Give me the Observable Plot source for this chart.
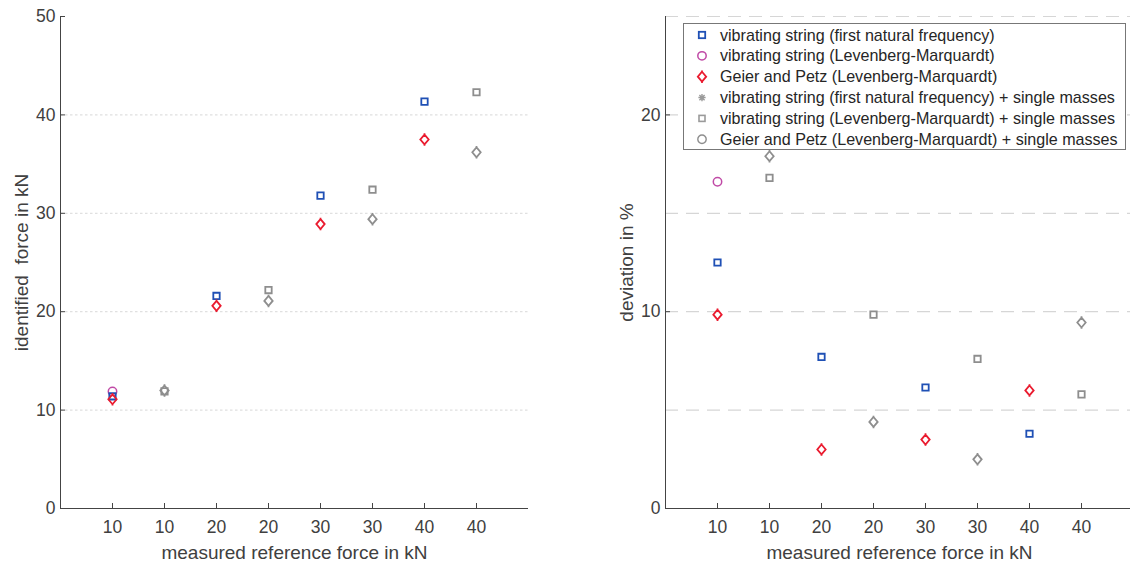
<!DOCTYPE html>
<html>
<head>
<meta charset="utf-8">
<script src="https://cdn.jsdelivr.net/npm/d3@7"></script>
<script src="https://cdn.jsdelivr.net/npm/@observablehq/plot@0.6"></script>
<style>
  html, body { margin: 0; padding: 0; background: #fff; }
  #chart { position: relative; width: 1130px; height: 567px; overflow: hidden;
           font-family: "Liberation Sans", Arial, sans-serif; }
  #chart > svg { position: absolute; top: 0; }
</style>
</head>
<body>
<div id="chart"></div>
<script>
// Measurement positions along the x axis and their reference force labels (kN)
const positions = [1, 2, 3, 4, 5, 6, 7, 8];
const forceLabels = ["10", "10", "20", "20", "30", "30", "40", "40"];

// Positions of tests without / with the additional single masses
const posPlain = [1, 3, 5, 7];
const posMasses = [2, 4, 6, 8];
const posStringLM = [1];

// Identified force in kN
const forceStringFreq = [11.4, 21.6, 31.8, 41.35];
const forceStringLM = [11.9];
const forceGeierPetz = [11.1, 20.6, 28.9, 37.5];
const forceStringLMMasses = [11.9, 22.2, 32.4, 42.3];
const forceGeierPetzMasses = [12.0, 21.1, 29.4, 36.2];

// Deviation from the measured reference force in %
const devStringFreq = [12.5, 7.7, 6.15, 3.8];
const devStringLM = [16.6];
const devGeierPetz = [9.85, 3.0, 3.5, 6.0];
const devStringLMMasses = [16.8, 9.85, 7.6, 5.8];
const devGeierPetzMasses = [17.9, 4.4, 2.5, 9.45];

// Legend entries
const legendNames = [
  "vibrating string (first natural frequency)",
  "vibrating string (Levenberg-Marquardt)",
  "Geier and Petz (Levenberg-Marquardt)",
  "vibrating string (first natural frequency) + single masses",
  "vibrating string (Levenberg-Marquardt) + single masses",
  "Geier and Petz (Levenberg-Marquardt) + single masses"
];

// Axis ticks and gridlines
const forceTicks = [0, 10, 20, 30, 40, 50];
const forceGrid = [10, 20, 30, 40];
const devTicks = [0, 10, 20];
const devGrid = [5, 10, 15, 20, 25];

const FONT = "'Liberation Sans', Arial, sans-serif";
const INK = "#404040";
const AXIS = "#444";
const BLUE = "#1f50b5";
const MAGENTA = "#c04aa6";
const RED = "#ea1b2f";
const GRAY = "#8e8e8e";
const HEIGHT = 567, MT = 16, MB = 59, TICK = 5;

// Diamond marker that is slightly taller than wide, with short spikes at the tips
const tallDiamond = {
  draw(ctx, size) {
    const r = Math.sqrt(size / Math.PI);
    const w = r * 0.93, h = r * 1.1, s = 1.3;
    ctx.moveTo(0, -h); ctx.lineTo(w, 0); ctx.lineTo(0, h); ctx.lineTo(-w, 0); ctx.closePath();
    ctx.moveTo(0, -h); ctx.lineTo(0, -h - s);
    ctx.moveTo(0, h); ctx.lineTo(0, h + s);
  }
};

const rows = (pos, vals) => pos.map((p, i) => ({x: p, y: vals[i]}));

function markerLayers(v) {
  return [
    Plot.dot(rows(posMasses, v.lmMasses), {x: "x", y: "y", symbol: "square", r: 3.6, stroke: GRAY, strokeWidth: 1.8, fill: "none"}),
    Plot.dot(rows(posMasses, v.gpMasses), {x: "x", y: "y", symbol: tallDiamond, r: 4.5, stroke: GRAY, strokeWidth: 1.8, fill: "none"}),
    Plot.dot(rows(posStringLM, v.lm), {x: "x", y: "y", symbol: "circle", r: 4.2, stroke: MAGENTA, strokeWidth: 1.5, fill: "none"}),
    Plot.dot(rows(posPlain, v.freq), {x: "x", y: "y", symbol: "square", r: 3.6, stroke: BLUE, strokeWidth: 1.8, fill: "none"}),
    Plot.dot(rows(posPlain, v.gp), {x: "x", y: "y", symbol: tallDiamond, r: 4.5, stroke: RED, strokeWidth: 1.8, fill: "none"})
  ];
}

function panel({width, marginLeft, marginRight, yMax, yTicks, grid, gridDash, gridColor, yLabel, values}) {
  const fw = width - marginLeft - marginRight;
  const fh = HEIGHT - MT - MB;
  return Plot.plot({
    width, height: HEIGHT, marginLeft, marginRight, marginTop: MT, marginBottom: MB,
    style: {fontFamily: FONT, fontSize: "17.5px", color: INK, background: "transparent", overflow: "visible"},
    x: {domain: [0, 9], axis: null},
    y: {domain: [0, yMax], axis: null},
    marks: [
      Plot.ruleY(grid, {stroke: gridColor, strokeWidth: 1.2, strokeDasharray: gridDash}),
      Plot.ruleY(yTicks, {stroke: AXIS, insetRight: fw - TICK}),
      Plot.ruleX(positions, {stroke: AXIS, insetTop: fh - TICK}),
      Plot.ruleX([0], {stroke: AXIS}),
      Plot.ruleY([0], {stroke: AXIS}),
      Plot.axisY({ticks: yTicks, tickSize: 0, tickPadding: 5, label: null, fill: INK}),
      Plot.axisX({ticks: positions, tickFormat: (d) => forceLabels[d - 1], tickSize: 0, tickPadding: 12, label: null, fill: INK}),
      Plot.text(["measured reference force in kN"], {text: (d) => d, frameAnchor: "bottom", textAnchor: "middle", lineAnchor: "bottom", dy: 50, fontSize: 19, fill: INK}),
      Plot.text([yLabel], {text: (d) => d, frameAnchor: "left", textAnchor: "middle", lineAnchor: "bottom", rotate: -90, dx: -33, fontSize: 19, fill: INK}),
      ...markerLayers(values)
    ]
  });
}

const chart = document.getElementById("chart");

const left = panel({
  width: 565, marginLeft: 60, marginRight: 37, yMax: 50,
  yTicks: forceTicks, grid: forceGrid, gridDash: "2.5,2.5", gridColor: "#e0e0e0",
  yLabel: "identified\u00a0 force in kN",
  values: {freq: forceStringFreq, lm: forceStringLM, gp: forceGeierPetz, lmMasses: forceStringLMMasses, gpMasses: forceGeierPetzMasses}
});
left.style.left = "0px";
chart.appendChild(left);

const right = panel({
  width: 568, marginLeft: 100, marginRight: 0, yMax: 25,
  yTicks: devTicks, grid: devGrid, gridDash: "13,8", gridColor: "#d6d6d6",
  yLabel: "deviation in %",
  values: {freq: devStringFreq, lm: devStringLM, gp: devGeierPetz, lmMasses: devStringLMMasses, gpMasses: devGeierPetzMasses}
});
right.style.left = "565px";
chart.appendChild(right);

// Legend box inside the deviation panel
const legendSymbols = [
  {shape: "square", color: BLUE, size: 6.4, width: 1.8},
  {shape: "circle", color: MAGENTA, size: 4.2, width: 1.5},
  {shape: "diamond", color: RED, size: 4.5, width: 1.8},
  {shape: "asterisk", color: "#9a9a9a", size: 3.6, width: 1.4},
  {shape: "square", color: "#9a9a9a", size: 6.0, width: 1.6},
  {shape: "circle", color: GRAY, size: 4.2, width: 1.4}
];

const lg = d3.create("svg")
  .attr("width", 1130).attr("height", 567)
  .style("left", "0px")
  .style("font-family", FONT);
const box = {x: 683.5, y: 23.5, w: 442, h: 126};
lg.append("rect").attr("x", box.x).attr("y", box.y).attr("width", box.w).attr("height", box.h)
  .attr("fill", "#fff").attr("stroke", "#777").attr("stroke-width", 1);

const rowY = (i) => 35 + i * 20.85;
legendSymbols.forEach((s, i) => {
  const cx = 702, cy = rowY(i);
  const g = lg.append("g").attr("transform", `translate(${cx},${cy})`)
    .attr("fill", "none").attr("stroke", s.color).attr("stroke-width", s.width);
  if (s.shape === "square") {
    g.append("rect").attr("x", -s.size / 2).attr("y", -s.size / 2).attr("width", s.size).attr("height", s.size);
  } else if (s.shape === "circle") {
    g.append("circle").attr("r", s.size);
  } else if (s.shape === "diamond") {
    const p = d3.path(); tallDiamond.draw(p, Math.PI * s.size * s.size);
    g.append("path").attr("d", p.toString());
  } else {
    const r = s.size, d = r * 0.72;
    g.append("path").attr("d", `M${-r},0H${r}M0,${-r}V${r}M${-d},${-d}L${d},${d}M${-d},${d}L${d},${-d}`);
  }
  lg.append("text").attr("x", 720).attr("y", cy).attr("dy", "0.35em")
    .attr("font-size", 16.1).attr("fill", "#262626").text(legendNames[i]);
});
chart.appendChild(lg.node());
</script>
</body>
</html>
